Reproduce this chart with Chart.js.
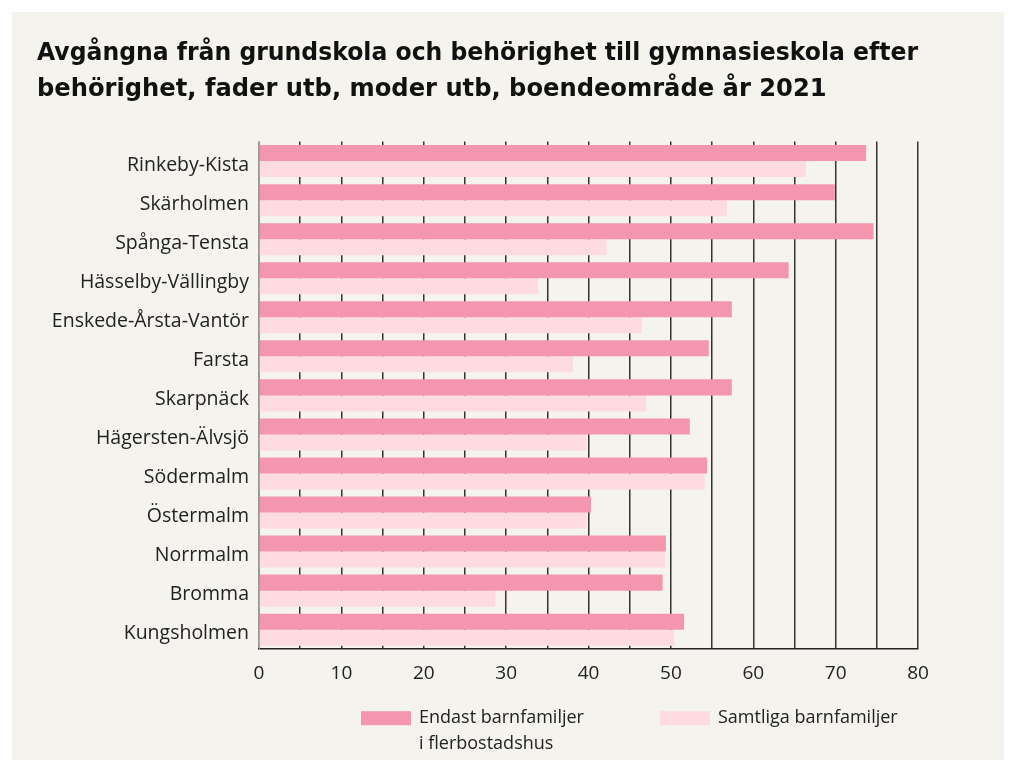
<!DOCTYPE html>
<html>
<head>
<meta charset="utf-8">
<script src="https://cdn.jsdelivr.net/npm/chart.js@4"></script>
<style>
html,body{margin:0;padding:0;background:#fff;}
.panel{position:absolute;left:12px;top:12px;width:992px;height:748px;background:#f5f3ee;}
</style>
</head>
<body>
<div class="panel"><canvas id="chart" width="992" height="748"></canvas></div>
<script>
const areas=['Rinkeby-Kista','Skärholmen','Spånga-Tensta','Hässelby-Vällingby','Enskede-Årsta-Vantör','Farsta','Skarpnäck','Hägersten-Älvsjö','Södermalm','Östermalm','Norrmalm','Bromma','Kungsholmen'];
const onlyFamiliesFlats=[73.7,69.9,74.6,64.3,57.4,54.6,57.4,52.3,54.4,40.3,49.4,49.0,51.6];
const allFamilies=[66.4,56.8,42.2,33.9,46.5,38.1,47.0,39.8,54.1,39.8,49.3,28.7,50.4];
const seriesNames=[['Endast barnfamiljer','i flerbostadshus'],['Samtliga barnfamiljer']];
const titleLines=['Avgångna från grundskola och behörighet till gymnasieskola efter','behörighet, fader utb, moder utb, boendeområde år 2021'];

const font='"Open Sans", Lato, sans-serif';
const colors=['#f396ae','#fddbe1'];

// legend drawn under the axis, two-line label for the first series
const bottomLegend={
  id:'bottomLegend',
  afterDraw(chart){
    const {ctx,chartArea}=chart;
    const y=chartArea.bottom+69;
    const starts=[chartArea.left+102,chartArea.left+401];
    ctx.save();
    ctx.font='18px '+font;
    ctx.textBaseline='middle';
    chart.data.datasets.forEach((ds,i)=>{
      ctx.fillStyle=ds.backgroundColor;
      ctx.fillRect(starts[i],y-7,50,14);
      ctx.fillStyle='#222';
      seriesNames[i].forEach((line,j)=>ctx.fillText(line,starts[i]+58,y+j*26));
    });
    ctx.restore();
  }
};

new Chart(document.getElementById('chart'),{
  type:'bar',
  data:{labels:areas,datasets:[
    {label:seriesNames[0].join(' '),data:onlyFamiliesFlats,backgroundColor:colors[0]},
    {label:seriesNames[1].join(' '),data:allFamilies,backgroundColor:colors[1]}
  ]},
  options:{
    indexAxis:'y',responsive:false,animation:false,
    layout:{padding:{left:25,right:86,top:0,bottom:62}},
    datasets:{bar:{categoryPercentage:0.82,barPercentage:1}},
    plugins:{
      title:{display:true,text:titleLines,align:'start',color:'#111',font:{family:'"DejaVu Sans", sans-serif',size:24.2,weight:'bold',lineHeight:1.52},padding:{top:23,bottom:33}},
      legend:{display:false},
      tooltip:{enabled:false}
    },
    scales:{
      x:{min:0,max:80,
        ticks:{stepSize:5,color:'#222',padding:13,font:{family:font,size:19},callback:v=>v%10===0?String(v):''},
        grid:{drawTicks:false,color:c=>c.tick&&c.tick.value===0?'#999':'#333',lineWidth:1.5},
        border:{display:true,color:'#222',width:1.5}},
      y:{afterFit:s=>{s.width=222;},
        ticks:{color:'#222',padding:10,labelOffset:4,font:{family:font,size:19.5}},
        grid:{display:false,drawTicks:false},
        border:{display:true,color:'#999',width:1}}
    }
  },
  plugins:[bottomLegend]
});
</script>
</body>
</html>
